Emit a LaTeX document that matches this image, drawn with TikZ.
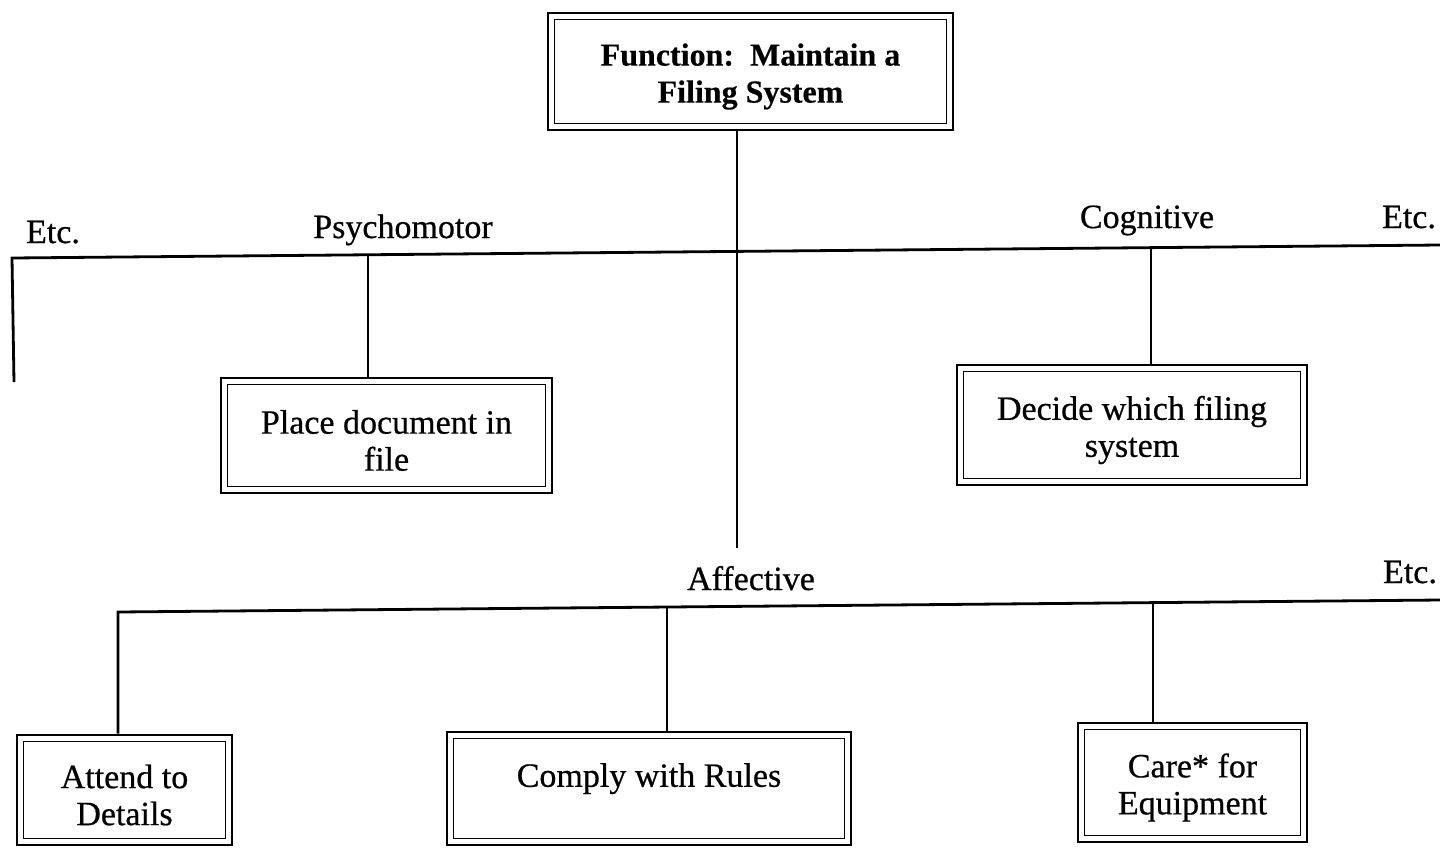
\documentclass[tikz,border=0pt]{standalone}
\usepackage{fontspec}
\setmainfont{Liberation Serif}
\newfontfamily\medfont{Liberation Serif}[FakeBold=0.6]
\newfontfamily\heavyfont{Liberation Serif Bold}[FakeBold=0.4]
\usetikzlibrary{calc}
\begin{document}
\begin{tikzpicture}[x=0.5pt,y=-0.5pt,
  boxnode/.style={draw, line width=1.4pt, inner sep=0pt},
  boxtext/.style={align=center, inner sep=0pt, yshift=-2.5pt,
    font=\fontsize{17}{18.5}\selectfont\medfont},
  innerline/.style={line width=0.6pt},
  hline/.style={line width=1.4pt},
  vline/.style={line width=1.1pt},
  lbl/.style={anchor=base, inner sep=0pt, font=\fontsize{17}{18.5}\selectfont\medfont}]
\useasboundingbox (0,0) rectangle (1440,847);

% boxes
\node[boxnode, minimum width=202.5pt, minimum height=58.5pt,
  label={[boxtext, font=\fontsize{16}{18.5}\selectfont\heavyfont]center:Function:\ \ Maintain a\\Filing System}]
  (top) at (750.5,71.5) {};
\node[boxnode, minimum width=165.5pt, minimum height=57.5pt,
  label={[boxtext]center:Place document in\\file}] (place) at (386.5,435.5) {};
\node[boxnode, minimum width=175pt, minimum height=60pt,
  label={[boxtext]center:Decide which filing\\system}] (decide) at (1132,425) {};
\node[boxnode, minimum width=107.5pt, minimum height=55pt,
  label={[boxtext]center:Attend to\\Details}] (attend) at (124.5,790) {};
\node[boxnode, minimum width=202pt, minimum height=56.5pt,
  label={[boxtext]center:Comply with Rules\\\mbox{}}] (comply) at (649,788.5) {};
\node[boxnode, minimum width=114.5pt, minimum height=59.5pt,
  label={[boxtext]center:Care* for\\Equipment}] (care) at (1192.5,782.5) {};

\foreach \n in {top,place,decide,attend,comply,care}
  \draw[innerline] ([xshift=4pt,yshift=-4pt]\n.north west) rectangle ([xshift=-4pt,yshift=4pt]\n.south east);

% labels
\node[lbl] (etc1) at (53,243) {Etc.};
\node[lbl] (psy) at (403,238) {Psychomotor};
\node[lbl] (cog) at (1147,228) {Cognitive};
\node[lbl] (etc2) at (1409,228) {Etc.};
\node[lbl] (aff) at (751,590) {Affective};
\node[lbl] (etc3) at (1410,583) {Etc.};

% branch lines
\coordinate (l1a) at (12,258);
\coordinate (l1b) at (1440,245);
\coordinate (p1) at (368,254.8);
\coordinate (c1) at (1151,247.6);
\coordinate (l1end) at (14,382);
\coordinate (mid) at (737,548);

\coordinate (l2a) at (118,612);
\coordinate (l2b) at (1440,600);
\coordinate (m2) at (667,607);
\coordinate (r2) at (1153,602.6);

\draw[hline] (l1end) -- (l1a) -- (l1b);
\draw[vline] (top.south -| mid) -- (mid);
\draw[vline] (p1) -- (p1 |- place.north);
\draw[vline] (c1) -- (c1 |- decide.north);

\draw[hline] (attend.north -| l2a) -- (l2a) -- (l2b);
\draw[vline] (m2) -- (m2 |- comply.north);
\draw[vline] (r2) -- (r2 |- care.north);
\end{tikzpicture}
\end{document}
